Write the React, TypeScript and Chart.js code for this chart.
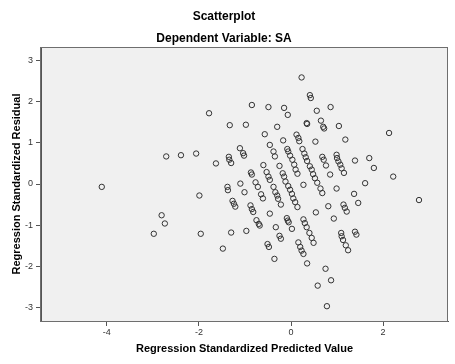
import React, { useEffect, useRef } from "react";
import { Chart, registerables } from "chart.js";

Chart.register(...registerables);

// Regression Standardized Predicted Value
const predicted: number[] = [
  -4.11, -2.98, -2.81, -2.74, -2.71, -2.39, -2.06, -1.99, -1.96, -1.78,
  -1.63, -1.48, -1.38, -1.37, -1.35, -1.34, -1.30, -1.33, -1.30, -1.27,
  -1.24, -1.21, -1.11, -1.04, -1.02, -1.10, -1.01, -0.98, -0.97, -0.88,
  -0.85, -0.82, -0.87, -0.85, -0.85, -0.77, -0.72, -0.75, -0.70, -0.68,
  -0.65, -0.61, -0.60, -0.57, -0.53, -0.49, -0.46, -0.51, -0.48, -0.49,
  -0.46, -0.38, -0.35, -0.46, -0.38, -0.34, -0.30, -0.28, -0.22, -0.36,
  -0.33, -0.25, -0.22, -0.30, -0.25, -0.15, -0.07, -0.17, -0.18, -0.15,
  -0.12, -0.06, -0.02, 0.02, 0.05, 0.09, 0.14, -0.09, -0.07, -0.05,
  0.02, 0.16, 0.20, 0.23, 0.27, -0.08, -0.06, -0.02, 0.03, 0.07,
  0.10, 0.14, 0.12, 0.16, 0.18, 0.23, 0.41, 0.43, 0.56, 0.86,
  0.65, 0.70, 0.72, 0.34, 0.35, 1.04, 1.18, 2.13, 0.53, 0.25,
  0.29, 0.32, 0.35, 0.41, 0.45, 0.48, 0.52, 0.57, 0.68, 0.71,
  0.76, 0.99, 1.00, 1.03, 1.07, 1.10, 1.15, 1.39, 1.70, 1.80,
  0.85, 2.22, 1.61, 0.99, 0.27, 0.64, 0.68, 1.37, 1.46, 2.78,
  0.81, 0.54, 0.93, 1.14, 1.17, 1.21, 0.27, 0.30, 0.34, 0.40,
  0.45, 0.49, 0.35, 0.75, 0.87, 0.58, 0.78, 1.09, 1.10, 1.13,
  1.19, 1.24, 1.39, 1.42,
];

// Regression Standardized Residual
const residual: number[] = [
  -0.07, -1.21, -0.76, -0.96, 0.67, 0.70, 0.74, -0.28, -1.21, 1.72,
  0.50, -1.57, -0.07, -0.15, 0.66, 0.59, 0.51, 1.43, -1.18, -0.41,
  -0.48, -0.55, 0.87, 0.75, 0.69, 0.01, -0.20, 1.44, -1.14, -0.52,
  -0.61, -0.68, 0.28, 0.23, 1.92, 0.04, -0.07, -0.88, -0.97, -1.01,
  -0.25, -0.35, 0.46, 1.21, 0.29, 0.18, 0.10, -1.46, -1.53, 1.87,
  0.95, 0.79, 0.67, -0.72, -0.07, -0.20, -0.28, -0.36, -0.50, -1.82,
  -1.05, -1.26, -1.33, 1.39, 0.44, 1.85, 1.68, 1.06, 0.26, 0.18,
  0.06, -0.05, -0.14, -0.24, -0.35, -0.44, -0.56, -0.83, -0.89, -0.93,
  -1.09, -1.42, -1.53, -1.62, -1.70, 0.85, 0.79, 0.69, 0.59, 0.47,
  0.35, 0.25, 1.20, 1.12, 1.04, 2.59, 2.16, 2.09, 1.78, 1.87,
  1.54, 1.39, 1.35, 1.48, 1.46, 1.41, 1.08, 1.24, 1.03, 0.85,
  0.74, 0.65, 0.56, 0.43, 0.35, 0.24, 0.14, 0.03, 0.66, 0.59,
  0.45, 0.71, 0.63, 0.55, 0.47, 0.38, 0.27, 0.57, 0.63, 0.39,
  0.23, 0.18, 0.02, -0.11, -0.02, -0.11, -0.22, -0.24, -0.46, -0.39,
  -0.54, -0.69, -0.84, -0.50, -0.58, -0.67, -0.86, -0.95, -1.05, -1.19,
  -1.31, -1.43, -1.93, -2.06, -2.34, -2.47, -2.97, -1.19, -1.27, -1.36,
  -1.49, -1.61, -1.16, -1.23,
];

const xTicks: number[] = [-4, -2, 0, 2];
const yTicks: number[] = [-3, -2, -1, 0, 1, 2, 3];
const xRange: number[] = [-5.43, 3.41];
const yRange: number[] = [-3.33, 3.33];

const FONT = "'Liberation Sans', Arial, Helvetica, sans-serif";

const plotFrame = {
  id: "plotFrame",
  beforeDraw(chart: any) {
    const { ctx, chartArea } = chart;
    const { left, top, right, bottom } = chartArea;
    ctx.save();
    ctx.fillStyle = "#ffffff";
    ctx.fillRect(0, 0, chart.width, chart.height);
    ctx.fillStyle = "#f0f0f0";
    ctx.fillRect(left, top, right - left, bottom - top);
    ctx.restore();
  },
  afterDraw(chart: any) {
    const { ctx, chartArea } = chart;
    const { left, top, right, bottom } = chartArea;
    ctx.save();
    ctx.strokeStyle = "#6e6e6e";
    ctx.lineWidth = 1;
    ctx.strokeRect(Math.round(left) - 0.5, Math.round(top) + 0.5, Math.round(right - left), Math.round(bottom - top));
    ctx.restore();
  },
};

export default function App() {
  const ref = useRef<HTMLCanvasElement | null>(null);

  useEffect(() => {
    if (!ref.current) return;
    const points = predicted.map((x, i) => ({ x, y: residual[i] }));
    const chart = new Chart(ref.current, {
      type: "scatter",
      data: {
        datasets: [
          {
            data: points,
            pointRadius: 2.7,
            pointHoverRadius: 2.7,
            pointBorderWidth: 1,
            pointBorderColor: "#333333",
            pointBackgroundColor: "rgba(0,0,0,0)",
            showLine: false,
          },
        ],
      },
      options: {
        animation: false,
        responsive: false,
        maintainAspectRatio: false,
        layout: { padding: { left: 0, right: 7, top: 0, bottom: 0 } },
        plugins: {
          legend: { display: false },
          tooltip: { enabled: false },
          title: {
            display: true,
            text: "Scatterplot",
            color: "#000",
            font: { family: FONT, size: 12, weight: "bold" },
            padding: { top: 9, bottom: 0 },
          },
          subtitle: {
            display: true,
            text: "Dependent Variable: SA",
            color: "#000",
            font: { family: FONT, size: 12, weight: "bold" },
            padding: { top: 7.8, bottom: 1.4 },
          },
        },
        scales: {
          x: {
            type: "linear",
            min: xRange[0],
            max: xRange[1],
            afterFit: (scale: any) => {
              scale.height = 43;
            },
            afterBuildTicks: (scale: any) => {
              scale.ticks = xTicks.map((v) => ({ value: v }));
            },
            ticks: {
              includeBounds: false,
              stepSize: 2,
              color: "#333",
              font: { family: FONT, size: 9 },
              padding: 1,
              callback: (v: any) => String(v),
            },
            grid: {
              drawOnChartArea: false,
              drawTicks: true,
              tickLength: 5,
              color: "#555",
            },
            border: { display: true, color: "#555" },
            title: {
              display: true,
              text: "Regression Standardized Predicted Value",
              color: "#000",
              font: { family: FONT, size: 11, weight: "bold" },
              padding: { top: 8.4, bottom: 8.4 },
            },
          },
          y: {
            type: "linear",
            min: yRange[0],
            max: yRange[1],
            afterFit: (scale: any) => {
              scale.width = 41;
            },
            afterBuildTicks: (scale: any) => {
              scale.ticks = yTicks.map((v) => ({ value: v }));
            },
            ticks: {
              includeBounds: false,
              stepSize: 1,
              color: "#333",
              font: { family: FONT, size: 9 },
              padding: 3,
              callback: (v: any) => String(v),
            },
            grid: {
              drawOnChartArea: false,
              drawTicks: true,
              tickLength: 5,
              color: "#555",
            },
            border: { display: true, color: "#555" },
            title: {
              display: true,
              text: "Regression Standardized Residual",
              color: "#000",
              font: { family: FONT, size: 11, weight: "bold" },
              padding: { top: 10.5, bottom: 10.5 },
            },
          },
        },
      },
      plugins: [plotFrame],
    } as any);
    return () => chart.destroy();
  }, []);

  return (
    <div style={{ position: "fixed", left: 0, top: 0, width: 455, height: 364, background: "#fff" }}>
      <canvas ref={ref} width={455} height={364} style={{ display: "block", width: 455, height: 364 }} />
    </div>
  );
}
